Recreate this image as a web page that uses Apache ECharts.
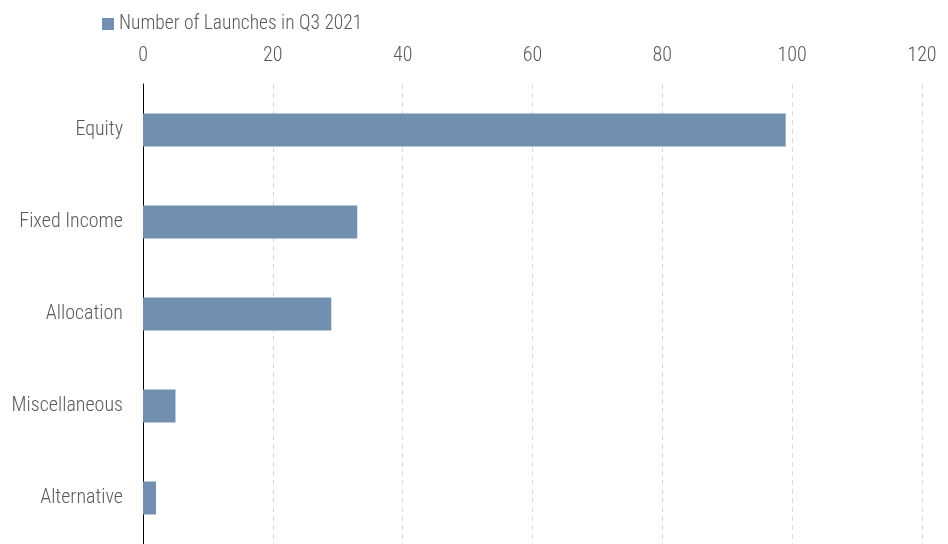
<!DOCTYPE html>
<html><head><meta charset="utf-8">
<script src="https://cdn.jsdelivr.net/npm/echarts@6/dist/echarts.min.js"></script>
<style>html,body{margin:0;padding:0;background:#fff}#c{width:948px;height:544px}</style>
</head><body><div id="c"></div>
<script>
const categories = ["Equity", "Fixed Income", "Allocation", "Miscellaneous", "Alternative"];
const launches = [99, 33, 29, 5, 2];
const seriesName = "Number of Launches in Q3 2021";
const FONT = "'Roboto Condensed', 'DejaVu Sans Condensed', 'Roboto', sans-serif";
const chart = echarts.init(document.getElementById('c'));
chart.setOption({
  animation: false,
  textStyle: { fontFamily: FONT },
  legend: {
    data: [seriesName], left: 97, top: 9, itemWidth: 12, itemHeight: 12, itemGap: 5,
    icon: 'rect',
    textStyle: { fontFamily: FONT, fontSize: 19.5, fontWeight: 300, color: '#595959' }
  },
  grid: { left: 143, right: 26, top: 84, bottom: -3, containLabel: false },
  xAxis: {
    type: 'value', position: 'top', min: 0, max: 120, interval: 20,
    axisLine: { show: false }, axisTick: { show: false },
    axisLabel: { fontFamily: FONT, fontSize: 20, fontWeight: 300, color: '#595959', margin: 18 },
    splitLine: { show: true, lineStyle: { type: [5, 4], color: '#d9d9d9', width: 1 } }
  },
  yAxis: {
    type: 'category', data: categories, inverse: true,
    axisLine: { show: true, lineStyle: { color: '#000', width: 1 } },
    axisTick: { show: false },
    axisLabel: { fontFamily: FONT, fontSize: 20, fontWeight: 300, color: '#595959', margin: 20, padding: [7, 0, 0, 0] }
  },
  series: [{
    name: seriesName, type: 'bar', data: launches, barWidth: 33,
    itemStyle: { color: '#728fb2' }
  }]
});
</script></body></html>
